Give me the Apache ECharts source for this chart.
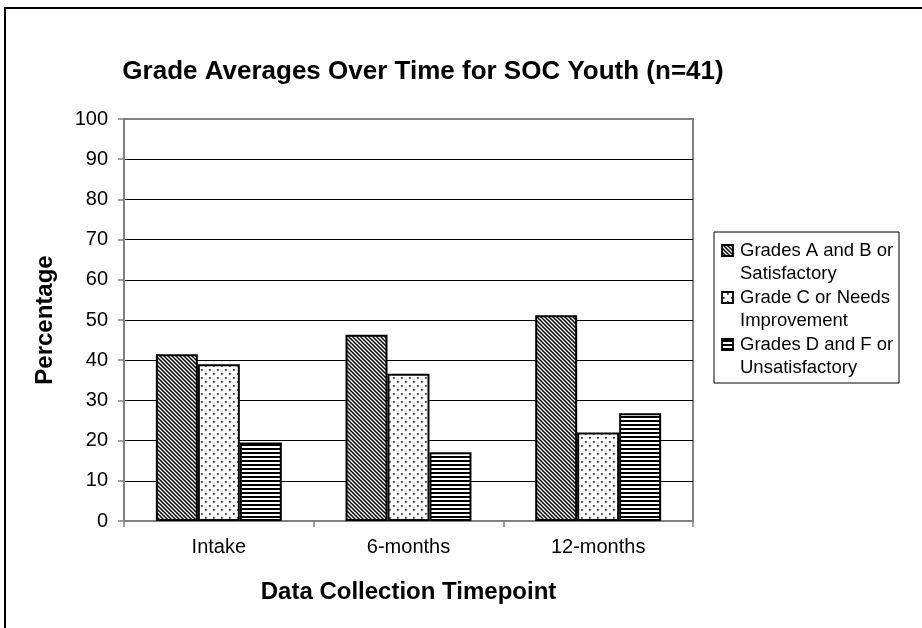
<!DOCTYPE html>
<html>
<head>
<meta charset="utf-8">
<script src="https://cdn.jsdelivr.net/npm/echarts@6/dist/echarts.min.js"></script>
<style>html,body{margin:0;padding:0;background:#fff;}#c{width:922px;height:628px;}</style>
</head>
<body>
<div id="c"></div>
<script>
const categories = ['Intake', '6-months', '12-months'];
const seriesNames = ['Grades A and B or\nSatisfactory', 'Grade C or Needs\nImprovement', 'Grades D and F or\nUnsatisfactory'];
const gradesAB = [41.5, 46.3, 51.2];
const gradeC = [39.0, 36.6, 22.0];
const gradesDF = [19.5, 17.1, 26.8];
const yTicks = [0, 10, 20, 30, 40, 50, 60, 70, 80, 90, 100];

function makeTile(w, h, draw) {
  const cv = document.createElement('canvas');
  cv.width = w; cv.height = h;
  const ctx = cv.getContext('2d');
  ctx.fillStyle = '#fff';
  ctx.fillRect(0, 0, w, h);
  draw(ctx);
  return cv;
}
const diagTile = makeTile(4, 4, ctx => {
  ctx.strokeStyle = '#000'; ctx.lineWidth = 1.5;
  for (let o = -4; o <= 4; o += 4) {
    ctx.beginPath(); ctx.moveTo(o - 1, -1); ctx.lineTo(o + 5, 5); ctx.stroke();
  }
});
const dotTile = makeTile(8, 8, ctx => {
  ctx.fillStyle = '#444';
  ctx.fillRect(1, 1, 1.8, 1.8);
  ctx.fillRect(5, 5, 1.8, 1.8);
});
const hlineTile = makeTile(4, 4, ctx => {
  ctx.fillStyle = '#000';
  ctx.fillRect(0, 0, 4, 2);
});
const patterns = [
  { image: diagTile, repeat: 'repeat' },
  { image: dotTile, repeat: 'repeat' },
  { image: hlineTile, repeat: 'repeat' }
];
const dataSets = [gradesAB, gradeC, gradesDF];

const chart = echarts.init(document.getElementById('c'), null, { renderer: 'canvas' });
const FONT = '"Liberation Sans", Arial, sans-serif';

const legendX = 714, legendY = 232;
const legendChildren = [{
  type: 'rect', shape: { x: 0, y: 0, width: 185, height: 151 },
  style: { fill: '#fff', stroke: '#000', lineWidth: 1 }
}];
seriesNames.forEach((n, i) => {
  const y0 = 12 + i * 47;
  legendChildren.push({
    type: 'rect', shape: { x: 8, y: y0 + 1, width: 11, height: 11 },
    style: { fill: patterns[i], stroke: '#000', lineWidth: 1.8 }
  });
  legendChildren.push({
    type: 'text', x: 26, y: y0 - 5,
    style: { text: n, font: '18.5px ' + FONT, fill: '#000', lineHeight: 23.5 }
  });
});

chart.setOption({
  animation: false,
  backgroundColor: '#fff',
  title: {
    text: 'Grade Averages Over Time for SOC Youth (n=41)',
    left: 418, textAlign: 'center', top: 54,
    textStyle: { fontFamily: FONT, fontSize: 26, fontWeight: 'bold', color: '#000' }
  },
  grid: {
    left: 124, top: 119, width: 569, height: 402,
    show: true, borderColor: '#808080', borderWidth: 2, backgroundColor: 'transparent'
  },
  xAxis: {
    type: 'category', data: categories,
    name: 'Data Collection Timepoint', nameLocation: 'middle', nameGap: 59,
    nameTextStyle: { fontFamily: FONT, fontSize: 24, fontWeight: 'bold', color: '#000' },
    axisLine: { lineStyle: { color: '#808080', width: 2 } },
    axisTick: { show: true, alignWithLabel: false, length: 6, lineStyle: { color: '#808080', width: 1.5 } },
    axisLabel: { fontFamily: FONT, fontSize: 20, color: '#000', margin: 16 }
  },
  yAxis: {
    type: 'value', min: yTicks[0], max: yTicks[yTicks.length - 1], interval: 10,
    name: 'Percentage', nameLocation: 'middle', nameGap: 67, nameRotate: 90,
    nameTextStyle: { fontFamily: FONT, fontSize: 24, fontWeight: 'bold', color: '#000' },
    axisLine: { show: true, lineStyle: { color: '#808080', width: 2 } },
    axisTick: { show: true, length: 6, lineStyle: { color: '#808080', width: 1.5 } },
    axisLabel: { fontFamily: FONT, fontSize: 20, color: '#000', margin: 16 },
    splitLine: { show: true, showMinLine: false, showMaxLine: false, lineStyle: { color: '#000', width: 1.2 } }
  },
  series: dataSets.map((d, i) => ({
    type: 'bar', name: seriesNames[i], data: d,
    barGap: '0%', barCategoryGap: '33.6%',
    itemStyle: { color: patterns[i], borderColor: '#000', borderWidth: 2 }
  })),
  graphic: [
    {
      type: 'rect', shape: { x: 5, y: 8, width: 940, height: 650 },
      style: { fill: 'none', stroke: '#000', lineWidth: 2 }, silent: true, z: 100
    },
    { type: 'group', x: legendX, y: legendY, children: legendChildren }
  ]
});
</script>
</body>
</html>
